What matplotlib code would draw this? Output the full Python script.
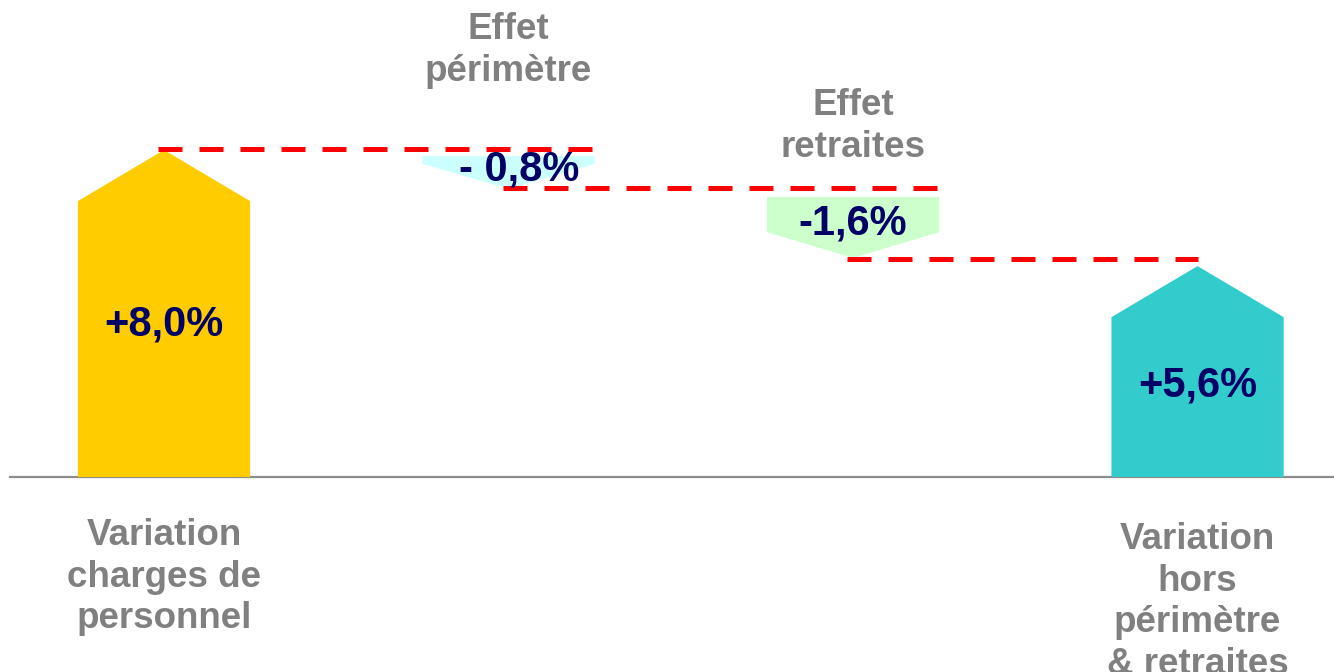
import matplotlib
matplotlib.use("Agg")
import matplotlib.pyplot as plt
from matplotlib.patches import Polygon
import numpy as np

plt.rcParams['font.family'] = ['Liberation Sans', 'DejaVu Sans']

# data (baseline = 0, schematic units)
categories = ["Variation\ncharges de\npersonnel", "Effet\npérimètre",
              "Effet\nretraites", "Variation\nhors\npérimètre\n& retraites"]
value_labels = ["+8,0%", "- 0,8%", "-1,6%", "+5,6%"]
bar_start = [0.0, 7.85, 6.85, 0.0]      # flat end of each arrow
bar_shoulder = [6.75, 7.66, 5.99, 3.91]  # where the point begins
bar_tip = [8.0, 7.05, 5.36, 5.16]        # tip of the arrow
connector_levels = [8.02, 7.07, 5.33]

colors = ["#FFCC00", "#CCFFFF", "#CCFFCC", "#33CCCC"]
x = np.arange(len(categories))
w = 0.5

fig = plt.figure(figsize=(13.34, 6.72), dpi=100)
ax = fig.add_axes([0, 0, 1, 1])
ax.set_xlim(-0.476, 3.396)
ax.set_ylim(-4.771, 11.670)
ax.axis("off")

for i in range(len(x)):
    pts = [(x[i] - w / 2, bar_start[i]), (x[i] - w / 2, bar_shoulder[i]),
           (x[i], bar_tip[i]), (x[i] + w / 2, bar_shoulder[i]),
           (x[i] + w / 2, bar_start[i])]
    ax.add_patch(Polygon(pts, closed=True, facecolor=colors[i],
                         edgecolor="none", zorder=2))

# dashed connectors
conn_x0 = [x[0] - 0.017, x[1] - 0.017, x[2] - 0.017]
conn_x1 = [x[1] + w / 2, x[2] + w / 2, x[3]]
for lv, a, b in zip(connector_levels, conn_x0, conn_x1):
    ax.plot([a, b], [lv, lv], color="#FF0000", lw=3.6,
            dashes=(4.8, 3.4), solid_capstyle="butt", zorder=3)

# baseline
ax.axhline(0, xmin=10 / 1334, xmax=1, color="#8C8C8C", lw=1.6, zorder=1)

# value labels
val_pos = [(0, 3.74), (1.03, 7.53), (2.0, 6.20), (3.0, 2.23)]
for (px, py), lab in zip(val_pos, value_labels):
    ax.text(px, py, lab, ha="center", va="center", fontsize=30,
            fontweight="bold", color="#000066", zorder=4)

# category labels
cat_pos = [(0, -2.45), (1.0, 10.43), (2.0, 8.57), (3.0, -3.06)]
for (px, py), lab in zip(cat_pos, categories):
    ax.text(px, py, lab, ha="center", va="center", fontsize=26.5,
            fontweight="bold", color="#808080", linespacing=1.24)

fig.savefig("out.png", dpi=100)
